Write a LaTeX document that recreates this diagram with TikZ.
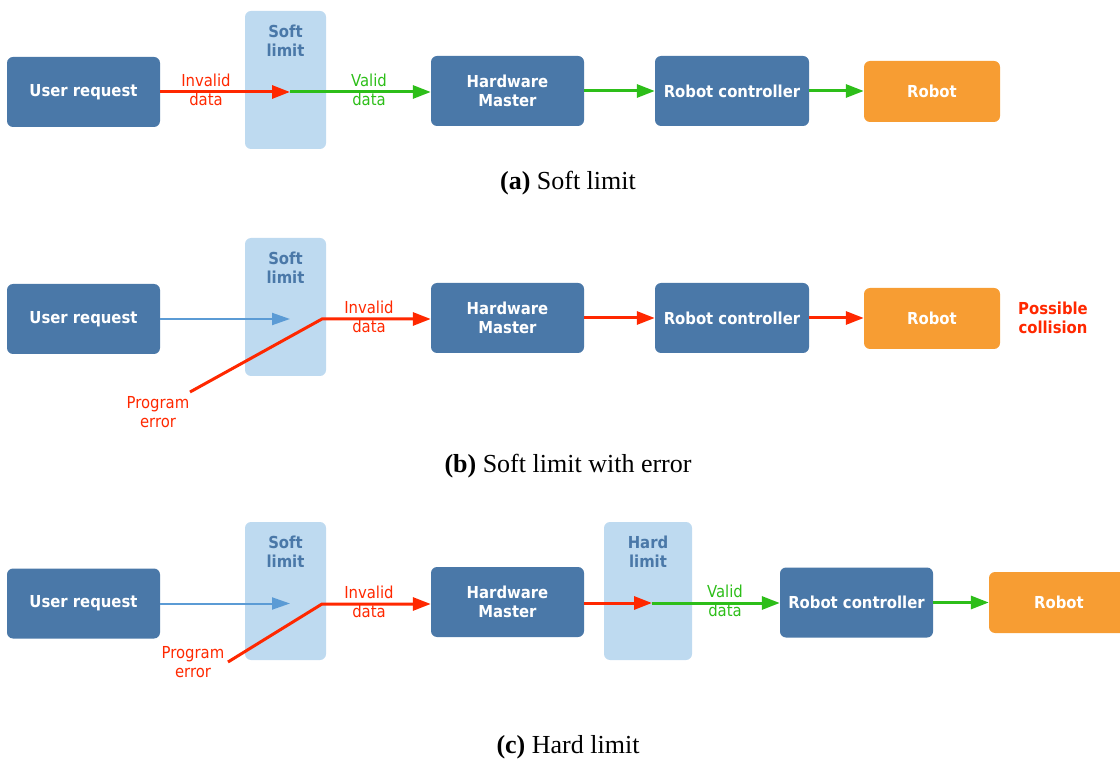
\documentclass[tikz,border=0pt]{standalone}
\usepackage{fontspec}
\setmainfont{Liberation Serif}
\newfontfamily\diafont{DejaVu Sans Condensed}
\usetikzlibrary{arrows.meta}

\definecolor{boxblue}{RGB}{74,120,168}
\definecolor{limitblue}{RGB}{190,218,240}
\definecolor{robotorange}{RGB}{247,157,51}
\definecolor{errred}{RGB}{255,40,0}
\definecolor{okgreen}{RGB}{45,190,25}
\definecolor{reqblue}{RGB}{91,155,213}

\newcommand\dfs{\fontsize{16.5}{19}\selectfont}

\tikzset{
  blk/.style={fill=boxblue, rounded corners=6pt, text=white, align=center,
    font=\diafont\bfseries\dfs, inner sep=0pt, minimum width=153pt, minimum height=70pt},
  robotblk/.style={blk, fill=robotorange, minimum width=136pt, minimum height=61pt},
  limitblk/.style={fill=limitblue, rounded corners=6pt, inner sep=0pt,
    minimum width=81pt, minimum height=138pt},
  limittxt/.style={text=boxblue, align=center, font=\diafont\bfseries\dfs, inner sep=0pt},
  lbl/.style={align=center, font=\diafont\dfs, inner sep=0pt},
  redlbl/.style={lbl, text=errred},
  greenlbl/.style={lbl, text=okgreen},
  caption/.style={font=\fontsize{26}{30}\selectfont, inner sep=0pt},
  tip/.style={-{Triangle[length=18pt,width=13pt]}},
  redarr/.style={tip, draw=errred, line width=3pt},
  greenarr/.style={tip, draw=okgreen, line width=3pt},
  bluearr/.style={-{Triangle[length=18pt,width=12pt]}, draw=reqblue, line width=2pt},
}

\begin{document}
\begin{tikzpicture}[x=1pt, y=-1pt]
\useasboundingbox (0,0) rectangle (1120,759);

% ---------------- (a) Soft limit ----------------
\node[limitblk] (sl1) at (285.5,80) {};
\node[limittxt] (sl1t) at (285.5,41) {Soft\\limit};
\node[blk] (ur1) at (83.5,92) {User request};
\node[blk] (hm1) at (507.5,91) {Hardware\\Master};
\node[blk, minimum width=154pt] (rc1) at (732,91) {Robot controller};
\node[robotblk] (rb1) at (932,91.5) {Robot};
\coordinate (m1) at (290,92);
\draw[redarr] (ur1.east |- m1) -- (m1);
\draw[greenarr] (m1) -- (hm1.west |- m1);
\draw[greenarr] (hm1) -- (rc1);
\draw[greenarr] (rc1.east) -- (rb1.west |- rc1.east);
\node[redlbl] (l1a) at (206,90) {Invalid\\data};
\node[greenlbl] (l1b) at (369,90) {Valid\\data};
\node[caption] (cap1) at (568,183) {\textbf{(a)} Soft limit};

% ---------------- (b) Soft limit with error ----------------
\node[limitblk] (sl2) at (285.5,307) {};
\node[limittxt] (sl2t) at (285.5,268) {Soft\\limit};
\node[blk] (ur2) at (83.5,319) {User request};
\node[blk] (hm2) at (507.5,318) {Hardware\\Master};
\node[blk, minimum width=154pt] (rc2) at (732,318) {Robot controller};
\node[robotblk] (rb2) at (932,318.5) {Robot};
\coordinate (m2) at (290,319);
\coordinate (e2) at (190,392);
\coordinate (k2) at (322,319);
\draw[bluearr] (ur2.east |- m2) -- (m2);
\draw[redarr, line join=miter] (e2) -- (k2) -- (hm2.west |- k2);
\draw[redarr] (hm2) -- (rc2);
\draw[redarr] (rc2.east) -- (rb2.west |- rc2.east);
\node[redlbl] (l2a) at (369,317) {Invalid\\data};
\node[redlbl] (l2b) at (158,412) {Program\\error};
\node[lbl, text=errred, font=\diafont\bfseries\dfs] (col) at (1053,318) {Possible\\collision};
\node[caption] (cap2) at (568,466) {\textbf{(b)} Soft limit with error};

% ---------------- (c) Hard limit ----------------
\node[limitblk] (sl3) at (285.5,591) {};
\node[limittxt] (sl3t) at (285.5,552) {Soft\\limit};
\node[limitblk, minimum width=88pt] (hl3) at (648,591) {};
\node[limittxt] (hl3t) at (648,552) {Hard\\limit};
\node[blk] (ur3) at (83.5,603.5) {User request};
\node[blk] (hm3) at (507.5,602) {Hardware\\Master};
\node[blk] (rc3) at (856.5,602.5) {Robot controller};
\node[robotblk, minimum width=140pt] (rb3) at (1059,602.5) {Robot};
\coordinate (m3) at (290,603.5);
\coordinate (e3) at (228,662);
\coordinate (k3) at (322,604);
\coordinate (h3) at (652,603);
\draw[bluearr] (ur3.east |- m3) -- (m3);
\draw[redarr, line join=miter] (e3) -- (k3) -- (hm3.west |- k3);
\draw[redarr] (hm3.east |- h3) -- (h3);
\draw[greenarr] (h3) -- (rc3.west |- h3);
\draw[greenarr] (rc3) -- (rb3);
\node[redlbl] (l3a) at (369,602) {Invalid\\data};
\node[redlbl] (l3b) at (193,662) {Program\\error};
\node[greenlbl] (l3c) at (725,601) {Valid\\data};
\node[caption] (cap3) at (568,747) {\textbf{(c)} Hard limit};
\end{tikzpicture}
\end{document}
